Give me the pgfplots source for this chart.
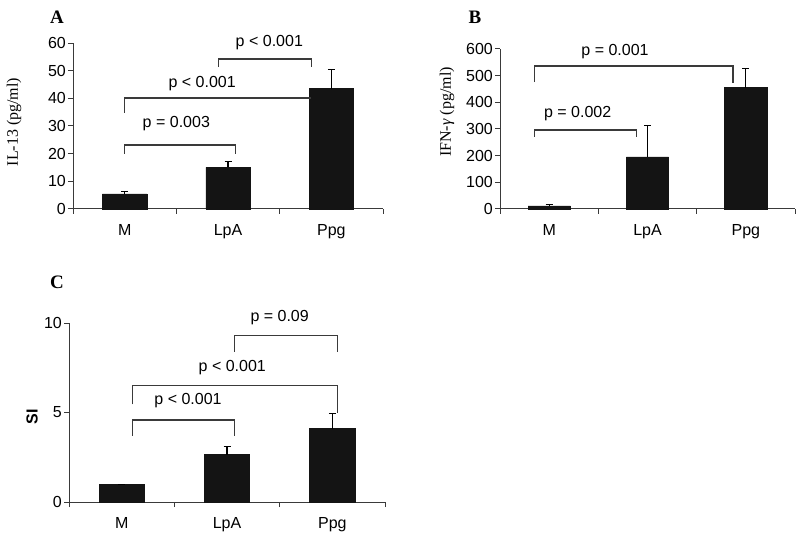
\documentclass[border=0pt]{standalone}
\usepackage{pgfplots}
\pgfplotsset{compat=1.18}
\usepackage{fontspec}
\setmainfont{Liberation Sans}
\newfontfamily\seriffont{Liberation Serif}
\definecolor{barfill}{HTML}{141414}
\definecolor{linec}{HTML}{3A3A3A}
\pgfplotsset{
  panel/.style={
    scale only axis,
    axis x line*=bottom, axis y line*=left,
    axis line style={-, linec, line width=1pt},
    ybar, bar width=0.43,
    xmin=-0.5, xmax=2.5, ymin=0,
    clip=false,
    tick align=outside,
    major tick length=5pt,
    tick style={linec, line width=1pt},
    xtick={-0.5,0.5,1.5,2.5}, xticklabels={},
    extra x ticks={0,1,2}, extra x tick labels={M,LpA,Ppg},
    extra x tick style={major tick length=0pt, xticklabel style={yshift=-12pt}},
    yticklabel style={inner sep=2pt},
    /pgf/number format/assume math mode=true,
    ticklabel style={font=\fontsize{16}{18}\selectfont},
  },
  bars/.style={fill=barfill, draw=barfill,
    error bars/y dir=plus, error bars/y explicit,
    error bars/error bar style={line width=1.2pt, black},
    error bars/error mark options={rotate=90, mark size=3.5pt, line width=1.2pt, black}},
}
\tikzset{
  brk/.style={linec, line width=1.2pt},
  plab/.style={font=\fontsize{16}{18}\selectfont},
}
\begin{document}
\begin{tikzpicture}[x=1pt,y=1pt]
\useasboundingbox (0,0) rectangle (800,536);
% Panel A
\node[font=\seriffont\bfseries\fontsize{19}{21}\selectfont] at (57,519) {A};
\node[font=\seriffont\fontsize{16}{18}\selectfont, rotate=90] at (14,414) {IL-13 (pg/ml)};
\begin{axis}[panel, at={(73pt,327pt)}, anchor=south west, width=310pt, height=166pt,
  ymax=60, ytick={0,10,20,30,40,50,60}]
\addplot[bars] coordinates {(0,5.5) +- (0,0.8) (1,15.0) +- (0,2.3) (2,43.5) +- (0,6.8)};
\draw[brk] (axis cs:0,19.9) -- (axis cs:0,23.1) -- (axis cs:1.07,23.1) -- (axis cs:1.07,19.9);
\node[plab] at (axis cs:0.5,31) {p = 0.003};
\draw[brk] (axis cs:0,34.7) -- (axis cs:0,40.1) -- (axis cs:1.8,40.1);
\node[plab] at (axis cs:0.75,45.5) {p < 0.001};
\draw[brk] (axis cs:0.91,51.3) -- (axis cs:0.91,54.2) -- (axis cs:1.81,54.2) -- (axis cs:1.81,51.3);
\node[plab] at (axis cs:1.4,60) {p < 0.001};
\end{axis}
% Panel B
\node[font=\seriffont\bfseries\fontsize{19}{21}\selectfont] at (475,519) {B};
\node[font=\seriffont\fontsize{16}{18}\selectfont, rotate=90] at (447,424) {IFN-\textit{γ} (pg/ml)};
\begin{axis}[panel, at={(500pt,327pt)}, anchor=south west, width=295pt, height=160pt,
  ymax=600, ytick={0,100,200,300,400,500,600}]
\addplot[bars] coordinates {(0,12) +- (0,5) (1,195) +- (0,118) (2,455) +- (0,73)};
\draw[brk] (axis cs:-0.15,270) -- (axis cs:-0.15,296) -- (axis cs:0.89,296) -- (axis cs:0.89,270);
\node[plab] at (axis cs:0.29,356) {p = 0.002};
\draw[brk] (axis cs:-0.15,476) -- (axis cs:-0.15,536) -- (axis cs:1.87,536) -- (axis cs:1.87,472);
\node[plab] at (axis cs:0.67,589) {p = 0.001};
\end{axis}
% Panel C
\node[font=\seriffont\bfseries\fontsize{19}{21}\selectfont] at (57,254) {C};
\node[font=\bfseries\fontsize{16}{18}\selectfont, rotate=90] at (32,119) {SI};
\begin{axis}[panel, at={(69pt,34pt)}, anchor=south west, width=316pt, height=179pt,
  ymax=10, ytick={0,5,10}]
\addplot[bars] coordinates {(0,1.0) +- (0,0) (1,2.65) +- (0,0.45) (2,4.1) +- (0,0.85)};
\draw[brk] (axis cs:0.1,3.71) -- (axis cs:0.1,4.58) -- (axis cs:1.07,4.58) -- (axis cs:1.07,3.71);
\node[plab] at (axis cs:0.63,5.64) {p < 0.001};
\draw[brk] (axis cs:0.1,5.45) -- (axis cs:0.1,6.53) -- (axis cs:2.05,6.53) -- (axis cs:2.05,4.95);
\node[plab] at (axis cs:1.05,7.5) {p < 0.001};
\draw[brk] (axis cs:1.07,8.39) -- (axis cs:1.07,9.28) -- (axis cs:2.05,9.28) -- (axis cs:2.05,8.39);
\node[plab] at (axis cs:1.5,10.3) {p = 0.09};
\end{axis}
\end{tikzpicture}
\end{document}
